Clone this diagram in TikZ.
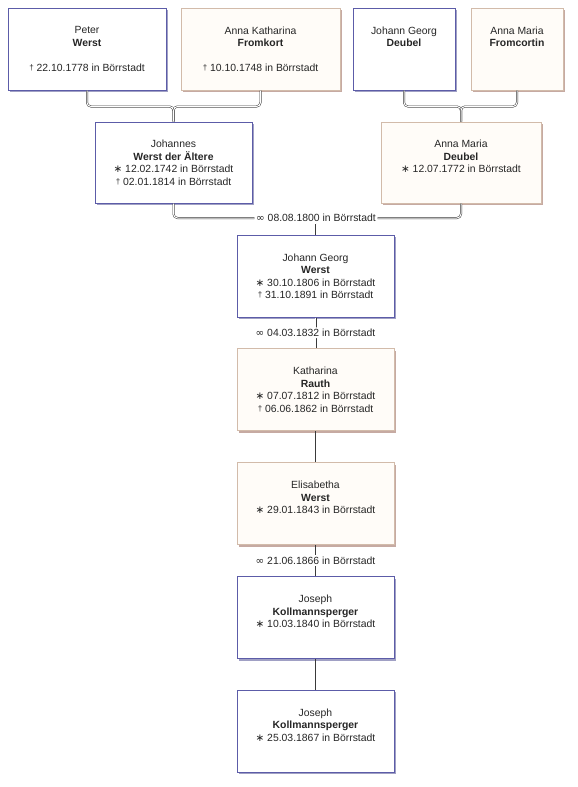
\documentclass[tikz,border=0pt]{standalone}
\usepackage{fontspec}
\setmainfont{Liberation Sans}
\newfontfamily\symfont{DejaVu Sans}
\usetikzlibrary{calc, shadows}
\definecolor{cMann}{HTML}{5C5CA8}
\definecolor{cFrau}{HTML}{D2BBAA}
\definecolor{cFrauBg}{HTML}{FFFCF8}
\definecolor{cMannSh}{HTML}{A0A0C4}
\definecolor{cFrauSh}{HTML}{C6AAA2}
\definecolor{cLinie}{HTML}{3A3A3A}
\definecolor{cText}{HTML}{262626}
\newcommand{\geb}{{\symfont ∗}}
\newcommand{\gest}{\raisebox{1pt}{\footnotesize †}}
\newcommand{\verh}{{\symfont ∞}}
\tikzset{
    x=1pt, y=-1pt,
    mann/.style={draw=cMann, line width=1pt, fill=white, inner sep=0pt,
                 minimum height=82pt,
                 drop shadow={shadow xshift=2pt, shadow yshift=-2pt,
                              fill=cMannSh, opacity=1}},
    frau/.style={draw=cFrau, line width=1pt, fill=cFrauBg, inner sep=0pt,
                 minimum height=82pt,
                 drop shadow={shadow xshift=2pt, shadow yshift=-2pt,
                              fill=cFrauSh, opacity=1}},
    txt/.style={anchor=north, align=center, inner sep=0pt, text=cText,
                font=\fontsize{10.4}{12.5}\selectfont},
    link/.style={draw=cLinie, line width=0.5pt, double=white,
                 double distance=1pt, rounded corners=4pt},
    stem/.style={draw=cLinie, line width=0.7pt},
    marr/.style={fill=white, inner sep=1.5pt, text=cText,
                 font=\fontsize{10.4}{12}\selectfont},
}

\begin{document}
\begin{tikzpicture}
    \useasboundingbox (0,0) rectangle (578,787);

    % Urgrosseltern
    \node[mann, minimum width=158pt] (peter) at (87,49) {};
    \node[txt] (peter-t) at ($(peter.north)+(0,19)$)
        {Peter\\\textbf{Werst}\\[12.5pt]\gest\ 22.10.1778 in Börrstadt};
    \node[frau, minimum width=159pt] (annak) at (260.5,49) {};
    \node[txt] (annak-t) at ($(annak.north)+(0,19)$)
        {Anna Katharina\\\textbf{Fromkort}\\[12.5pt]\gest\ 10.10.1748 in Börrstadt};
    \node[mann, minimum width=102pt] (jgd) at (404,49) {};
    \node[txt] (jgd-t) at ($(jgd.north)+(0,19)$)
        {Johann Georg\\\textbf{Deubel}};
    \node[frau, minimum width=92pt] (amf) at (517,49) {};
    \node[txt] (amf-t) at ($(amf.north)+(0,19)$)
        {Anna Maria\\\textbf{Fromcortin}};

    % Eltern
    \node[mann, minimum width=157pt, minimum height=81pt] (joh) at (173.5,162.5) {};
    \node[txt] (joh-t) at ($(joh.north)+(0,18.5)$)
        {Johannes\\\textbf{Werst der Ältere}\\\geb\ 12.02.1742 in Börrstadt\\
         \gest\ 02.01.1814 in Börrstadt};
    \node[frau, minimum width=160pt, minimum height=81pt] (amd) at (461,162.5) {};
    \node[txt] (amd-t) at ($(amd.north)+(0,18.5)$)
        {Anna Maria\\\textbf{Deubel}\\\geb\ 12.07.1772 in Börrstadt};

    % Hauptlinie
    \node[mann, minimum width=157pt] (jgw) at (315.5,276) {};
    \node[txt] (jgw-t) at ($(jgw.north)+(0,19)$)
        {Johann Georg\\\textbf{Werst}\\\geb\ 30.10.1806 in Börrstadt\\
         \gest\ 31.10.1891 in Börrstadt};
    \node[frau, minimum width=157pt] (kath) at (315.5,389.5) {};
    \node[txt] (kath-t) at ($(kath.north)+(0,19)$)
        {Katharina\\\textbf{Rauth}\\\geb\ 07.07.1812 in Börrstadt\\
         \gest\ 06.06.1862 in Börrstadt};
    \node[frau, minimum width=157pt] (elis) at (315.5,503.5) {};
    \node[txt] (elis-t) at ($(elis.north)+(0,19)$)
        {Elisabetha\\\textbf{Werst}\\\geb\ 29.01.1843 in Börrstadt};
    \node[mann, minimum width=157pt] (jos1) at (315.5,617.5) {};
    \node[txt] (jos1-t) at ($(jos1.north)+(0,19)$)
        {Joseph\\\textbf{Kollmannsperger}\\\geb\ 10.03.1840 in Börrstadt};
    \node[mann, minimum width=157pt] (jos2) at (315.5,731) {};
    \node[txt] (jos2-t) at ($(jos2.north)+(0,19)$)
        {Joseph\\\textbf{Kollmannsperger}\\\geb\ 25.03.1867 in Börrstadt};

    % Klammern
    \coordinate (j1) at ($(joh.north)+(0,-15)$);
    \draw[link] (peter.south) |- (j1) -- (joh.north);
    \draw[link] (annak.south) |- (j1) -- (joh.north);
    \coordinate (j2) at ($(amd.north)+(0,-15)$);
    \draw[link] (jgd.south) |- (j2) -- (amd.north);
    \draw[link] (amf.south) |- (j2) -- (amd.north);

    \node[marr] (m1) at (316,218) {\verh\ 08.08.1800 in Börrstadt};
    \draw[link] (joh.south) |- (m1.west);
    \draw[link] (amd.south) |- (m1.east);
    \draw[link] (m1.south) -- (m1.south |- jgw.north);

    \draw[link] (jgw) -- node[marr] (m2) {\verh\ 04.03.1832 in Börrstadt} (kath);
    \draw[stem] (kath) -- (elis);
    \draw[stem] (elis) -- node[marr] (m3) {\verh\ 21.06.1866 in Börrstadt} (jos1);
    \draw[stem] (jos1) -- (jos2);
\end{tikzpicture}
\end{document}
